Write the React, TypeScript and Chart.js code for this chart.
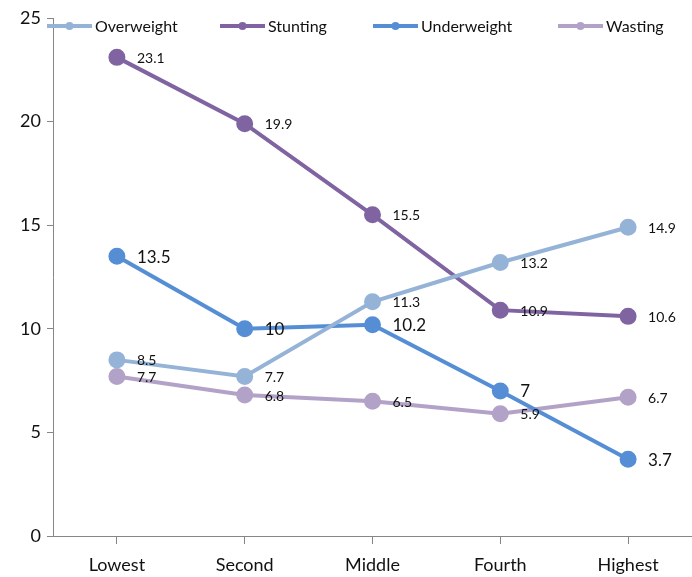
import React, { useEffect, useRef } from "react";
import { Chart, registerables } from "chart.js";

Chart.register(...registerables);

const categories = ["Lowest", "Second", "Middle", "Fourth", "Highest"];
const seriesNames = ["Overweight", "Stunting", "Underweight", "Wasting"];
const overweight = [8.5, 7.7, 11.3, 13.2, 14.9];
const stunting = [23.1, 19.9, 15.5, 10.9, 10.6];
const underweight = [13.5, 10, 10.2, 7, 3.7];
const wasting = [7.7, 6.8, 6.5, 5.9, 6.7];
const colors = ["#95B3D7", "#8064A2", "#558ED5", "#B3A2C7"];
const labelSizes = [14, 14, 17, 14];

const FONT = "Lato, 'Open Sans', sans-serif";

const labelPlugin = {
  id: "pointLabels",
  afterDatasetsDraw(chart: any) {
    const ctx = chart.ctx;
    ctx.save();
    chart.data.datasets.forEach((ds: any, i: number) => {
      const meta = chart.getDatasetMeta(i);
      ctx.font = `${labelSizes[i]}px ${FONT}`;
      ctx.fillStyle = "#111";
      ctx.textAlign = "left";
      ctx.textBaseline = "middle";
      meta.data.forEach((pt: any, j: number) => {
        ctx.fillText(String(ds.data[j]), pt.x + 20, pt.y + 1);
      });
    });
    ctx.restore();
  },
};

const legendPlugin = {
  id: "customLegend",
  afterDraw(chart: any) {
    const ctx = chart.ctx;
    const starts = [47, 220, 373, 558];
    const y = 26;
    ctx.save();
    ctx.font = `16px ${FONT}`;
    ctx.textBaseline = "middle";
    ctx.textAlign = "left";
    seriesNames.forEach((name, i) => {
      const x = starts[i];
      ctx.strokeStyle = colors[i];
      ctx.lineWidth = 4;
      ctx.beginPath();
      ctx.moveTo(x, y);
      ctx.lineTo(x + 45, y);
      ctx.stroke();
      ctx.fillStyle = colors[i];
      ctx.beginPath();
      ctx.arc(x + 22.5, y, 4, 0, Math.PI * 2);
      ctx.fill();
      ctx.fillStyle = "#111";
      ctx.fillText(name, x + 48, y + 1);
    });
    ctx.restore();
  },
};

export default function App() {
  const ref = useRef<HTMLCanvasElement>(null);
  useEffect(() => {
    document.body.style.margin = "0";
    const seriesData = [overweight, stunting, underweight, wasting];
    const chart = new Chart(ref.current!, {
      type: "line",
      data: {
        labels: categories,
        datasets: seriesNames.map((name, i) => ({
          label: name,
          data: seriesData[i],
          borderColor: colors[i],
          backgroundColor: colors[i],
          pointBackgroundColor: colors[i],
          pointBorderColor: colors[i],
          borderWidth: 4,
          pointRadius: 6.5,
          tension: 0,
          clip: false,
        })),
      },
      options: {
        responsive: false,
        animation: false,
        layout: { autoPadding: false, padding: { top: 18, right: 0, left: 0, bottom: 0 } },
        plugins: { legend: { display: false }, tooltip: { enabled: false } },
        scales: {
          x: {
            offset: true,
            grid: {
              display: true,
              drawOnChartArea: false,
              drawTicks: true,
              tickLength: 8,
              color: "#868686",
            },
            border: { color: "#868686", width: 1 },
            ticks: { color: "#111", font: { size: 18, family: FONT }, padding: 10 },
            afterFit: (s: any) => {
              s.height = 41;
              s.paddingLeft = 0;
              s.paddingRight = 0;
            },
          },
          y: {
            min: 0,
            max: 25,
            ticks: { stepSize: 5, color: "#111", font: { size: 18, family: FONT }, padding: 6 },
            grid: {
              display: true,
              drawOnChartArea: false,
              drawTicks: true,
              tickLength: 6,
              color: "#868686",
            },
            border: { color: "#868686", width: 1 },
            afterFit: (s: any) => {
              s.width = 53;
            },
          },
        },
      },
      plugins: [labelPlugin, legendPlugin],
    });
    return () => chart.destroy();
  }, []);
  return <canvas ref={ref} width={692} height={577} />;
}
